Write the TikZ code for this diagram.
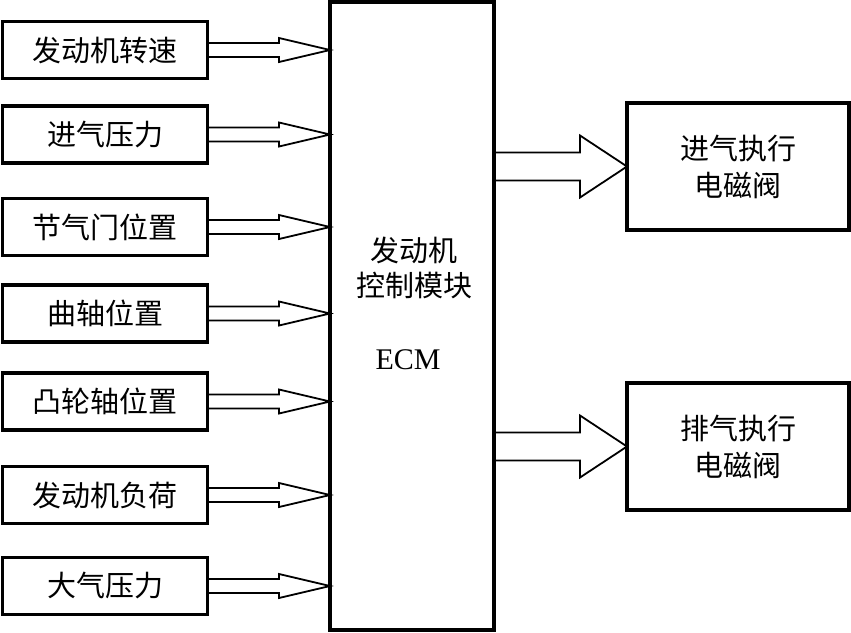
\documentclass[tikz,border=0pt]{standalone}
\usepackage{fontspec}
\setmainfont{Liberation Serif}
\newfontfamily\cjk{Noto Sans CJK SC}
\usetikzlibrary{calc}
\tikzset{
  inbox/.style={draw,line width=3.5pt,minimum width=205pt,minimum height=57pt,inner sep=0pt,outer sep=0pt,font=\cjk\fontsize{29}{32}\selectfont},
  outbox/.style={draw,line width=3.5pt,minimum width=222pt,minimum height=127pt,inner sep=0pt,outer sep=0pt,align=center,font=\cjk\fontsize{29}{37}\selectfont},
  ecmbox/.style={draw,line width=3.5pt,minimum width=164pt,minimum height=628pt,inner sep=0pt,outer sep=0pt},
  hollow/.style={line width=1.8pt}
}
% hollow block arrow: from, to, shaft half width, head half width, head length
\newcommand{\hollowarrow}[5]{%
  \draw[hollow] let \p1=(#1), \p2=(#2) in
    (\x1,\y1+#3) -- (\x2-#5,\y1+#3) -- (\x2-#5,\y1+#4) -- (\x2,\y1)
    -- (\x2-#5,\y1-#4) -- (\x2-#5,\y1-#3) -- (\x1,\y1-#3);}
\begin{document}
\begin{tikzpicture}[x=1pt,y=-1pt]
\useasboundingbox (0,0) rectangle (851,632);
\node[ecmbox] (ecm) at (412,316) {};
\node[font=\cjk\fontsize{29}{35}\selectfont,align=center] (ecmname) at (414,268) {发动机\\控制模块};
\node[font=\fontsize{30}{32}\selectfont] (ecmabbr) at (408,360) {ECM};
\foreach \ypos/\txt [count=\i] in {50/发动机转速,134.5/进气压力,227/节气门位置,313.5/曲轴位置,401.5/凸轮轴位置,495/发动机负荷,586/大气压力}{
  \node[inbox] (in\i) at (105,\ypos) {\txt};
  \coordinate (tip\i) at (ecm.west |- in\i.east);
  \hollowarrow{in\i.east}{tip\i}{7pt}{12pt}{51pt}
}
\node[outbox] (intake) at (738,166.5) {进气执行\\电磁阀};
\node[outbox] (exhaust) at (738,446.5) {排气执行\\电磁阀};
\foreach \valve in {intake,exhaust}{
  \coordinate (src\valve) at (ecm.east |- \valve.west);
  \hollowarrow{src\valve}{\valve.west}{14pt}{31pt}{47pt}
}
\end{tikzpicture}
\end{document}
